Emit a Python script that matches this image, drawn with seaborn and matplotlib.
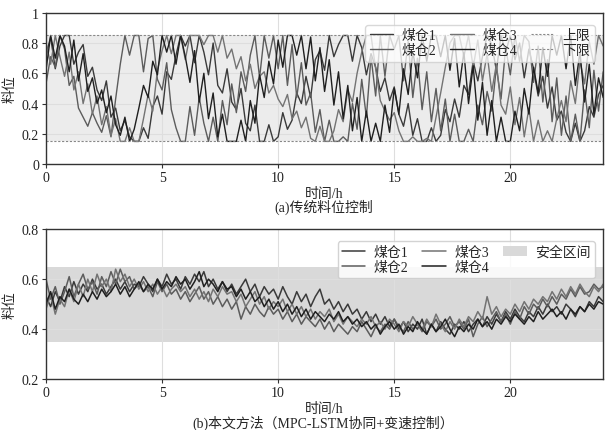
import numpy as np
import pandas as pd
import matplotlib
matplotlib.use('Agg')
import matplotlib.pyplot as plt
import seaborn as sns

sns.set_theme(style='whitegrid')
plt.rcParams['font.family'] = ['Liberation Serif', 'Noto Sans CJK SC']
plt.rcParams['axes.unicode_minus'] = False

# ---- data: coal bin levels, one value every 0.2 h ----
names = ['煤仓1', '煤仓2', '煤仓3', '煤仓4']

# (a) traditional level control
top1 = [0.72, 0.84, 0.63, 0.78, 0.85, 0.85, 0.66, 0.74, 0.79, 0.58,
        0.64, 0.49, 0.42, 0.55, 0.31, 0.37, 0.22, 0.29, 0.18, 0.15,
        0.15, 0.24, 0.17, 0.38, 0.45, 0.33, 0.61, 0.56, 0.72, 0.85,
        0.78, 0.85, 0.67, 0.85, 0.74, 0.59, 0.80, 0.52, 0.47, 0.63,
        0.41, 0.36, 0.50, 0.27, 0.22, 0.39, 0.15, 0.15, 0.26, 0.15,
        0.18, 0.34, 0.23, 0.29, 0.47, 0.40, 0.58, 0.44, 0.69, 0.75,
        0.62, 0.85, 0.71, 0.79, 0.85, 0.85, 0.68, 0.85, 0.77, 0.59,
        0.73, 0.64, 0.48, 0.57, 0.42, 0.51, 0.33, 0.25, 0.40, 0.19,
        0.30, 0.15, 0.15, 0.24, 0.15, 0.19, 0.36, 0.28, 0.43, 0.31,
        0.52, 0.46, 0.68, 0.55, 0.71, 0.85, 0.79, 0.62, 0.85, 0.74,
        0.85, 0.69, 0.80, 0.57, 0.76, 0.63, 0.45, 0.58, 0.37, 0.51,
        0.29, 0.35, 0.21, 0.15, 0.27, 0.15, 0.22, 0.38, 0.31, 0.46,
        0.52]
top2 = [0.53, 0.71, 0.64, 0.85, 0.76, 0.52, 0.58, 0.37, 0.31, 0.25,
        0.34, 0.27, 0.21, 0.32, 0.18, 0.43, 0.66, 0.85, 0.72, 0.85,
        0.85, 0.61, 0.83, 0.85, 0.56, 0.49, 0.67, 0.36, 0.24, 0.15,
        0.15, 0.38, 0.19, 0.44, 0.27, 0.15, 0.31, 0.15, 0.42, 0.26,
        0.53, 0.34, 0.61, 0.48, 0.72, 0.85, 0.57, 0.85, 0.70, 0.85,
        0.63, 0.85, 0.52, 0.79, 0.44, 0.67, 0.39, 0.47, 0.21, 0.36,
        0.15, 0.29, 0.15, 0.15, 0.18, 0.15, 0.40, 0.23, 0.56, 0.31,
        0.71, 0.45, 0.85, 0.58, 0.85, 0.76, 0.85, 0.55, 0.81, 0.44,
        0.70, 0.36, 0.61, 0.28, 0.50, 0.22, 0.43, 0.15, 0.33, 0.15,
        0.15, 0.23, 0.15, 0.39, 0.26, 0.48, 0.35, 0.64, 0.43, 0.77,
        0.59, 0.85, 0.68, 0.85, 0.81, 0.54, 0.78, 0.41, 0.69, 0.28,
        0.57, 0.19, 0.45, 0.15, 0.33, 0.15, 0.49, 0.24, 0.62, 0.35,
        0.61]
top3 = [0.80, 0.66, 0.85, 0.71, 0.58, 0.74, 0.49, 0.61, 0.40, 0.53,
        0.33, 0.45, 0.26, 0.38, 0.19, 0.30, 0.15, 0.15, 0.24, 0.15,
        0.15, 0.30, 0.46, 0.35, 0.62, 0.75, 0.85, 0.73, 0.85, 0.85,
        0.69, 0.85, 0.85, 0.85, 0.79, 0.85, 0.85, 0.74, 0.85, 0.70,
        0.76, 0.63, 0.71, 0.55, 0.66, 0.50, 0.58, 0.61, 0.47, 0.52,
        0.43, 0.38, 0.46, 0.30, 0.35, 0.24, 0.31, 0.17, 0.15, 0.25,
        0.15, 0.15, 0.22, 0.36, 0.28, 0.49, 0.41, 0.60, 0.74, 0.85,
        0.85, 0.63, 0.42, 0.35, 0.29, 0.34, 0.22, 0.15, 0.15, 0.18,
        0.15, 0.15, 0.17, 0.15, 0.31, 0.47, 0.64, 0.80, 0.85, 0.85,
        0.71, 0.85, 0.64, 0.82, 0.55, 0.73, 0.48, 0.66, 0.39, 0.33,
        0.51, 0.26, 0.44, 0.18, 0.37, 0.15, 0.29, 0.15, 0.22, 0.15,
        0.30, 0.42, 0.28, 0.55, 0.40, 0.68, 0.53, 0.81, 0.66, 0.85,
        0.78]
top4 = [0.62, 0.85, 0.70, 0.85, 0.78, 0.61, 0.82, 0.55, 0.73, 0.48,
        0.57, 0.40, 0.49, 0.34, 0.45, 0.26, 0.19, 0.31, 0.15, 0.23,
        0.37, 0.52, 0.44, 0.68, 0.59, 0.85, 0.74, 0.85, 0.66, 0.85,
        0.71, 0.54, 0.75, 0.41, 0.60, 0.30, 0.47, 0.18, 0.33, 0.15,
        0.15, 0.15, 0.29, 0.15, 0.42, 0.27, 0.59, 0.44, 0.68, 0.53,
        0.82, 0.64, 0.85, 0.85, 0.72, 0.85, 0.63, 0.84, 0.55, 0.77,
        0.48, 0.69, 0.39, 0.61, 0.30, 0.52, 0.22, 0.44, 0.15, 0.35,
        0.15, 0.27, 0.15, 0.39, 0.21, 0.50, 0.33, 0.63, 0.46, 0.74,
        0.57, 0.85, 0.68, 0.85, 0.85, 0.71, 0.85, 0.62, 0.83, 0.51,
        0.74, 0.40, 0.65, 0.29, 0.54, 0.19, 0.42, 0.15, 0.31, 0.15,
        0.15, 0.35, 0.22, 0.50, 0.33, 0.64, 0.47, 0.77, 0.58, 0.85,
        0.72, 0.85, 0.63, 0.85, 0.52, 0.74, 0.41, 0.66, 0.33, 0.57,
        0.44]

# (b) MPC-LSTM cooperative + variable speed control
bot1 = [0.53, 0.49, 0.55, 0.51, 0.57, 0.53, 0.59, 0.54, 0.58, 0.55,
        0.60, 0.56, 0.58, 0.54, 0.57, 0.60, 0.56, 0.59, 0.55, 0.58,
        0.57, 0.61, 0.58, 0.55, 0.60, 0.57, 0.62, 0.58, 0.60, 0.56,
        0.61, 0.58, 0.62, 0.59, 0.63, 0.57, 0.60, 0.56, 0.59, 0.55,
        0.58, 0.54, 0.57, 0.60, 0.55, 0.58, 0.53, 0.57, 0.54, 0.56,
        0.52, 0.57, 0.53, 0.50, 0.55, 0.51, 0.54, 0.49, 0.53, 0.56,
        0.50, 0.52, 0.48, 0.51, 0.47, 0.50, 0.46, 0.48, 0.44, 0.47,
        0.43, 0.46, 0.42, 0.45, 0.41, 0.44, 0.40, 0.43, 0.39, 0.42,
        0.40, 0.44, 0.38, 0.42, 0.39, 0.43, 0.40, 0.38, 0.42, 0.40,
        0.43, 0.39, 0.42, 0.44, 0.41, 0.45, 0.42, 0.46, 0.43, 0.47,
        0.44, 0.48, 0.45, 0.43, 0.47, 0.45, 0.49, 0.46, 0.50, 0.47,
        0.49, 0.46, 0.50, 0.48, 0.45, 0.49, 0.47, 0.51, 0.49, 0.53,
        0.51]
bot2 = [0.60, 0.52, 0.57, 0.50, 0.55, 0.61, 0.53, 0.58, 0.62, 0.56,
        0.59, 0.54, 0.61, 0.57, 0.63, 0.58, 0.64, 0.59, 0.61, 0.56,
        0.58, 0.55, 0.57, 0.53, 0.59, 0.55, 0.58, 0.54, 0.56, 0.52,
        0.55, 0.51, 0.54, 0.57, 0.52, 0.55, 0.50, 0.53, 0.49, 0.52,
        0.48, 0.51, 0.44, 0.49, 0.46, 0.50, 0.47, 0.45, 0.49, 0.46,
        0.48, 0.44, 0.47, 0.43, 0.46, 0.42, 0.45, 0.43, 0.41, 0.44,
        0.40, 0.43, 0.39, 0.42, 0.40, 0.38, 0.41, 0.39, 0.43, 0.40,
        0.37, 0.41, 0.39, 0.42, 0.40, 0.44, 0.41, 0.39, 0.43, 0.40,
        0.42, 0.39, 0.43, 0.41, 0.44, 0.40, 0.42, 0.45, 0.41, 0.43,
        0.40, 0.44, 0.37, 0.42, 0.45, 0.41, 0.44, 0.47, 0.43, 0.46,
        0.42, 0.47, 0.44, 0.49, 0.46, 0.50, 0.48, 0.52, 0.49, 0.53,
        0.50, 0.54, 0.52, 0.56, 0.53, 0.57, 0.54, 0.55, 0.58, 0.56,
        0.57]
bot3 = [0.48, 0.54, 0.46, 0.52, 0.49, 0.56, 0.51, 0.58, 0.53, 0.60,
        0.55, 0.62, 0.57, 0.60, 0.55, 0.64, 0.59, 0.62, 0.57, 0.60,
        0.56, 0.59, 0.55, 0.58, 0.54, 0.57, 0.53, 0.56, 0.58, 0.55,
        0.57, 0.53, 0.56, 0.52, 0.55, 0.51, 0.56, 0.53, 0.57, 0.54,
        0.55, 0.51, 0.54, 0.49, 0.52, 0.55, 0.50, 0.53, 0.48, 0.51,
        0.49, 0.52, 0.47, 0.50, 0.46, 0.49, 0.45, 0.48, 0.44, 0.47,
        0.45, 0.48, 0.43, 0.46, 0.42, 0.45, 0.43, 0.41, 0.44, 0.42,
        0.45, 0.41, 0.43, 0.40, 0.44, 0.42, 0.39, 0.43, 0.41, 0.45,
        0.42, 0.40, 0.44, 0.41, 0.46, 0.42, 0.39, 0.43, 0.40, 0.44,
        0.41, 0.45, 0.43, 0.47, 0.44, 0.53, 0.46, 0.49, 0.45, 0.48,
        0.46, 0.50, 0.47, 0.51, 0.48, 0.52, 0.50, 0.53, 0.51, 0.55,
        0.52, 0.56, 0.53, 0.57, 0.54, 0.58, 0.55, 0.53, 0.57, 0.55,
        0.58]
bot4 = [0.50, 0.55, 0.48, 0.53, 0.51, 0.56, 0.52, 0.50, 0.54, 0.51,
        0.55, 0.52, 0.56, 0.53, 0.55, 0.58, 0.54, 0.57, 0.53, 0.56,
        0.59, 0.55, 0.58, 0.56, 0.60, 0.56, 0.59, 0.57, 0.61, 0.58,
        0.60, 0.56, 0.59, 0.63, 0.57, 0.60, 0.58, 0.55, 0.59, 0.56,
        0.57, 0.53, 0.56, 0.52, 0.55, 0.51, 0.53, 0.49, 0.52, 0.48,
        0.51, 0.47, 0.50, 0.46, 0.49, 0.45, 0.48, 0.44, 0.47, 0.45,
        0.43, 0.46, 0.44, 0.47, 0.43, 0.45, 0.42, 0.44, 0.41, 0.43,
        0.40, 0.42, 0.38, 0.41, 0.43, 0.40, 0.42, 0.38, 0.41, 0.39,
        0.43, 0.40, 0.38, 0.42, 0.39, 0.41, 0.44, 0.40, 0.37, 0.41,
        0.39, 0.42, 0.40, 0.44, 0.41, 0.43, 0.40, 0.44, 0.42, 0.45,
        0.43, 0.46, 0.44, 0.42, 0.45, 0.43, 0.47, 0.44, 0.46, 0.48,
        0.45, 0.47, 0.44, 0.48, 0.46, 0.49, 0.47, 0.50, 0.48, 0.51,
        0.50]

upper, lower = 0.85, 0.15
safe_lo, safe_hi = 0.35, 0.65

t = np.linspace(0, 24, len(top1))
colors = ['#3a3a3a', '#5c5c5c', '#737373', '#1f1f1f']

fig = plt.figure(figsize=(6.05, 4.31), dpi=100)
ax1 = fig.add_axes([0.076, 0.617, 0.921, 0.351])
ax2 = fig.add_axes([0.076, 0.118, 0.921, 0.348])

# top panel
ax1.fill_between([0, 24], lower, upper, color='#ececec', lw=0, zorder=0.2)
for s, name, c in zip([top1, top2, top3, top4], names, colors):
    sns.lineplot(x=t, y=s, ax=ax1, color=c, lw=1.0, label=name)
ax1.axhline(upper, color='#888888', lw=0.8, ls=(0, (2, 1.5)), label='上限')
ax1.axhline(lower, color='#888888', lw=0.8, ls=(0, (2, 1.5)), label='下限')
ax1.set_ylim(0, 1)
ax1.set_yticks([0, 0.2, 0.4, 0.6, 0.8, 1])
ax1.set_yticklabels(['0', '0.2', '0.4', '0.6', '0.8', '1'])
h, l = ax1.get_legend_handles_labels()
ax1.legend(h, l, ncol=3, loc='upper right', bbox_to_anchor=(0.997, 0.965),
           fontsize=10, frameon=True, framealpha=0.75, edgecolor='#cccccc',
           handlelength=1.7, columnspacing=1.0, labelspacing=0.15,
           borderpad=0.3, handletextpad=0.6, fancybox=True)

# bottom panel
ax2.axhspan(safe_lo, safe_hi, color='#d9d9d9', lw=0, zorder=0.2, label='安全区间')
for s, name, c in zip([bot1, bot2, bot3, bot4], names, colors):
    sns.lineplot(x=t, y=s, ax=ax2, color=c, lw=1.1, label=name)
ax2.set_ylim(0.2, 0.8)
ax2.set_yticks([0.2, 0.4, 0.6, 0.8])
h, l = ax2.get_legend_handles_labels()
order = [l.index(n) for n in names] + [l.index('安全区间')]
ax2.legend([h[i] for i in order], [l[i] for i in order], ncol=3,
           loc='upper right', bbox_to_anchor=(0.997, 0.965), fontsize=10,
           frameon=True, framealpha=0.85, edgecolor='#cccccc',
           handlelength=1.7, columnspacing=1.0, labelspacing=0.15,
           borderpad=0.3, handletextpad=0.6, fancybox=True)

for ax in (ax1, ax2):
    ax.set_xlim(0, 24)
    ax.set_xticks([0, 5, 10, 15, 20])
    ax.set_axisbelow(True)
    ax.grid(True, color='#dedede', lw=0.8)
    for sp in ax.spines.values():
        sp.set_color('#333333')
        sp.set_linewidth(1.0)
    ax.tick_params(axis='both', labelsize=10, length=3, width=0.8,
                   color='#333333', labelcolor='#222222', pad=2,
                   bottom=True, left=True)
    ax.set_xlabel('时间/h', fontsize=10, labelpad=2)
    ax.set_ylabel('料位', fontsize=10, labelpad=4)

fig.text(0.535, 0.52, '(a)传统料位控制', ha='center', va='center', fontsize=10)
fig.text(0.535, 0.018, '(b)本文方法（MPC-LSTM协同+变速控制）', ha='center',
         va='center', fontsize=10)

fig.savefig('out.png', dpi=100)
